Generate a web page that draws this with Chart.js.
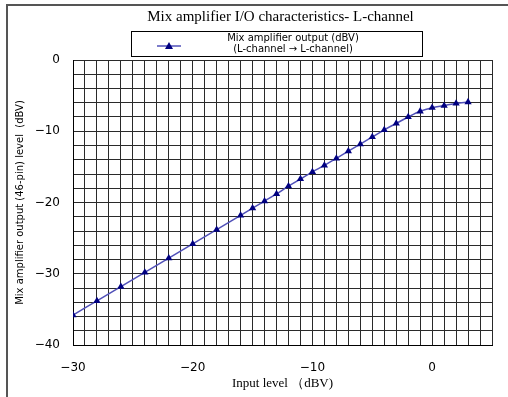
<!DOCTYPE html>
<html>
<head>
<meta charset="utf-8">
<script src="https://cdn.jsdelivr.net/npm/chart.js@4"></script>
<style>
html,body{margin:0;padding:0;background:#fff;}
#wrap{position:relative;width:508px;height:397px;}
</style>
</head>
<body>
<div id="wrap"><canvas id="c" width="508" height="397"></canvas></div>
<script>
const chartTitle = "Mix amplifier I/O characteristics- L-channel";
const seriesLabel = ["Mix amplifier output (dBV)", "(L-channel \u2192 L-channel)"];
const xAxisTitle = "Input level \uFF08dBV)";
const yAxisTitle = "Mix amplifier output (46-pin) level  (dBV)";
const inputLevel = [-30,-28,-26,-24,-22,-20,-18,-16,-15,-14,-13,-12,-11,-10,-9,-8,-7,-6,-5,-4,-3,-2,-1,0,1,2,3];
const outputLevel = [-35.8,-33.8,-31.8,-29.8,-27.8,-25.8,-23.8,-21.8,-20.8,-19.8,-18.8,-17.7,-16.7,-15.7,-14.8,-13.8,-12.8,-11.8,-10.8,-9.8,-8.9,-8.0,-7.2,-6.7,-6.4,-6.1,-5.9];
const xTickLabels = [-30,-20,-10,0];
const yTickLabels = [0,-10,-20,-30,-40];

const points = inputLevel.map((x,i)=>({x:x, y:outputLevel[i]}));

const decor = {
  id:'decor',
  beforeDraw(chart){
    const ctx = chart.ctx;
    ctx.save();
    ctx.fillStyle = '#fff';
    ctx.fillRect(0,0,chart.width,chart.height);
    ctx.strokeStyle = '#555';
    ctx.lineWidth = 2;
    ctx.beginPath();
    ctx.moveTo(7, chart.height);
    ctx.lineTo(7, 5);
    ctx.lineTo(chart.width, 5);
    ctx.stroke();
    ctx.restore();
  },
  afterDraw(chart){
    const ctx = chart.ctx;
    const area = chart.chartArea;
    const cx = (area.left + area.right)/2;
    ctx.save();
    ctx.fillStyle = '#000';
    ctx.font = '15px "Liberation Serif", "DejaVu Serif", serif';
    ctx.textAlign = 'center';
    ctx.textBaseline = 'middle';
    ctx.fillText(chartTitle, cx - 2, 17);
    const bx = 131, by = 31, bw = 291, bh = 25;
    ctx.strokeStyle = '#000';
    ctx.lineWidth = 1;
    ctx.strokeRect(bx+0.5, by+0.5, bw, bh);
    const ds = chart.data.datasets[0];
    ctx.strokeStyle = ds.borderColor;
    ctx.lineWidth = 1.5;
    ctx.beginPath();
    ctx.moveTo(157, 46);
    ctx.lineTo(181, 46);
    ctx.stroke();
    ctx.fillStyle = ds.pointBackgroundColor;
    ctx.beginPath();
    ctx.moveTo(169, 42);
    ctx.lineTo(173, 49);
    ctx.lineTo(165, 49);
    ctx.closePath();
    ctx.fill();
    ctx.fillStyle = '#000';
    ctx.font = '10px "DejaVu Sans", sans-serif';
    ctx.textAlign = 'center';
    ctx.fillText(ds.label[0], 293, 38);
    ctx.fillText(ds.label[1], 293, 49);
    ctx.restore();
  }
};

new Chart(document.getElementById('c'), {
  type:'line',
  data:{
    datasets:[{
      label: seriesLabel,
      data: points,
      borderColor:'#5050b8',
      borderWidth:1.5,
      backgroundColor:'#000080',
      pointBackgroundColor:'#000080',
      pointBorderColor:'#000080',
      pointStyle:'triangle',
      pointRadius:4.2,
      pointBorderWidth:0,
      tension:0.4,
      cubicInterpolationMode:'monotone',
      fill:false
    }]
  },
  options:{
    responsive:false,
    animation:false,
    devicePixelRatio:1,
    layout:{padding:{left:0, top:60, right:13, bottom:0}},
    plugins:{legend:{display:false}, title:{display:false}, tooltip:{enabled:false}},
    scales:{
      x:{
        type:'linear', min:-30, max:5,
        border:{color:'#000', width:1},
        grid:{color:'#2a2a2a', lineWidth:1, drawTicks:false},
        ticks:{stepSize:1, autoSkip:false, maxRotation:0, padding:16,
          color:'#000', font:{family:'"DejaVu Sans", sans-serif', size:12},
          callback:(v)=> xTickLabels.includes(v) ? String(v).replace('-','\u2212') : ''},
        title:{display:true, text:xAxisTitle, color:'#000', padding:{top:0,bottom:6},
          font:{family:'"Liberation Serif", serif', size:13}},
        afterFit(s){ s.height = 397 - 345; }
      },
      y:{
        type:'linear', min:-40, max:0,
        border:{color:'#000', width:1},
        grid:{color:'#2a2a2a', lineWidth:1, drawTicks:false},
        ticks:{stepSize:2, autoSkip:false, padding:13,
          color:'#000', font:{family:'"DejaVu Sans", sans-serif', size:12},
          callback:(v)=> yTickLabels.includes(v) ? String(v).replace('-','\u2212') : ''},
        title:{display:true, text:yAxisTitle, color:'#000', padding:{top:14,bottom:0},
          font:{family:'"DejaVu Sans", sans-serif', size:10}},
        afterFit(s){ s.width = 73; }
      }
    }
  },
  plugins:[decor]
});
</script>
</body>
</html>
